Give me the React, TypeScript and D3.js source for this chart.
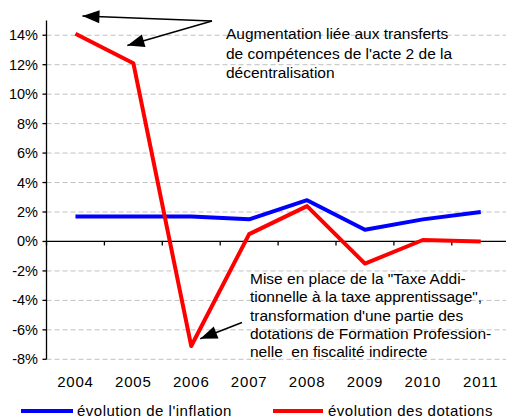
import React from 'react';
import * as d3 from 'd3';

const years = ['2004', '2005', '2006', '2007', '2008', '2009', '2010', '2011'];
const inflation = [1.7, 1.7, 1.7, 1.5, 2.8, 0.8, 1.5, 2.0];
const dotations = [14.1, 12.1, -7.1, 0.5, 2.4, -1.5, 0.1, 0.0];
const yTicks = [-8, -6, -4, -2, 0, 2, 4, 6, 8, 10, 12, 14];
const note1 = ['Augmentation liée aux transferts', "de compétences de l'acte 2 de la", 'décentralisation'];
const note2 = [
  'Mise en place de la "Taxe Addi-',
  'tionnelle à la taxe apprentissage",',
  "transformation d'une partie des",
  'dotations de Formation Profession-',
  'nelle  en fiscalité indirecte',
];

const W = 506;
const H = 418;
const FONT = '"Liberation Sans", Arial, sans-serif';

function arrowHead(from: [number, number], to: [number, number], len = 17, half = 6.5) {
  const dx = to[0] - from[0];
  const dy = to[1] - from[1];
  const d = Math.hypot(dx, dy);
  const ux = dx / d, uy = dy / d;
  const bx = to[0] - ux * len, by = to[1] - uy * len;
  return [
    [to[0], to[1]],
    [bx - uy * half, by + ux * half],
    [bx + uy * half, by - ux * half],
  ].map(p => p.join(',')).join(' ');
}

export default function App() {
  const left = 46.5;
  const step = 57.9;
  const x = d3.scaleBand().domain(years).range([left, left + step * years.length]).padding(0);
  const xc = (yr: string) => (x(yr) as number) + x.bandwidth() / 2;
  const y = d3.scaleLinear().domain([-8, 15]).range([359.3, 20.5]);

  const line = d3.line<number>()
    .x((_, i) => xc(years[i]))
    .y(d => y(d));

  const tail1: [number, number] = [212, 21];
  const tip1: [number, number] = [xc('2004') + 7, y(15.3)];
  const tip2: [number, number] = [xc('2005') - 6, y(13.3)];
  const tail3: [number, number] = [242, 322.5];
  const tip3: [number, number] = [xc('2006') + 9, y(-6.6)];

  return (
    <svg width={W} height={H} style={{ position: 'absolute', left: 0, top: 0 }} fontFamily={FONT}>
      <rect width={W} height={H} fill="#fff" />
      {yTicks.filter(t => t !== 0).map(t => (
        <line key={'g' + t} x1={left} x2={W} y1={y(t)} y2={y(t)}
          stroke="#c0c0c0" strokeWidth={1} strokeDasharray="5,3" />
      ))}
      {/* y axis */}
      <line x1={left} x2={left} y1={y(15)} y2={y(-8)} stroke="#000" strokeWidth={1.3} />
      {yTicks.map(t => (
        <g key={'yt' + t}>
          <line x1={left - 4} x2={left} y1={y(t)} y2={y(t)} stroke="#000" strokeWidth={1.3} />
          <text x={38} y={y(t) + 5} textAnchor="end" fontSize={14.5} fill="#000">{t}%</text>
        </g>
      ))}
      {/* x axis at 0 */}
      <line x1={left} x2={W} y1={y(0)} y2={y(0)} stroke="#000" strokeWidth={1.3} />
      {years.map(yr => (
        <line key={'xt' + yr} x1={x(yr) as number} x2={x(yr) as number} y1={y(0)} y2={y(0) + 4}
          stroke="#000" strokeWidth={1.3} />
      ))}
      {years.map(yr => (
        <text key={'xl' + yr} x={xc(yr)} y={387} textAnchor="middle" fontSize={15}
          letterSpacing={0.8} fill="#000">{yr}</text>
      ))}

      <path d={line(inflation) as string} fill="none" stroke="#0000ff" strokeWidth={4} strokeLinejoin="round" />
      <path d={line(dotations) as string} fill="none" stroke="#ff0000" strokeWidth={4} strokeLinejoin="round" />

      {/* annotations */}
      <line x1={tail1[0]} y1={tail1[1]} x2={tip1[0]} y2={tip1[1]} stroke="#000" strokeWidth={1.5} />
      <polygon points={arrowHead(tail1, tip1)} fill="#000" />
      <line x1={tail1[0]} y1={tail1[1]} x2={tip2[0]} y2={tip2[1]} stroke="#000" strokeWidth={1.5} />
      <polygon points={arrowHead(tail1, tip2)} fill="#000" />
      <line x1={tail3[0]} y1={tail3[1]} x2={tip3[0]} y2={tip3[1]} stroke="#000" strokeWidth={1.5} />
      <polygon points={arrowHead(tail3, tip3)} fill="#000" />

      {note1.map((s, i) => (
        <text key={'n1' + i} x={226} y={39 + i * 19.5} fontSize={15.5} fill="#000">{s}</text>
      ))}
      {note2.map((s, i) => (
        <text key={'n2' + i} x={250} y={284 + i * 18.3} fontSize={15.5} fill="#000"
          style={{ whiteSpace: 'pre' }}>{s}</text>
      ))}

      {/* legend */}
      <line x1={21} x2={73} y1={411} y2={411} stroke="#0000ff" strokeWidth={4} />
      <text x={77} y={416} fontSize={15} letterSpacing={0.5} fill="#000">évolution de l'inflation</text>
      <line x1={273} x2={323} y1={411} y2={411} stroke="#ff0000" strokeWidth={4} />
      <text x={328} y={416} fontSize={15} letterSpacing={0.5} fill="#000">évolution des dotations</text>
    </svg>
  );
}
